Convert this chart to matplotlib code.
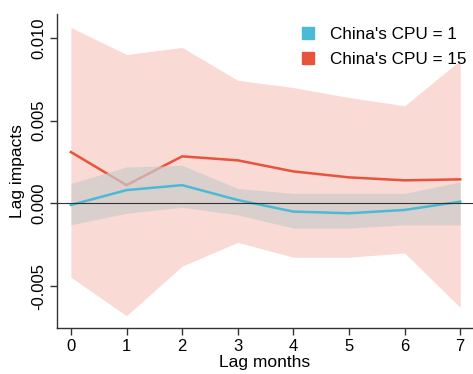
import numpy as np
import matplotlib.pyplot as plt
from matplotlib.lines import Line2D

plt.rcParams['font.family'] = ['Liberation Sans', 'DejaVu Sans']

# lag months
lags = [0, 1, 2, 3, 4, 5, 6, 7]

# China's CPU = 1
cpu1 = [-0.0001, 0.0008, 0.0011, 0.0002, -0.0005, -0.0006, -0.0004, 0.0001]
cpu1_hi = [0.0012, 0.0022, 0.0023, 0.0009, 0.0006, 0.0006, 0.0006, 0.0013]
cpu1_lo = [-0.0013, -0.0006, -0.00024, -0.0007, -0.0015, -0.0015, -0.0013, -0.0013]

# China's CPU = 15
cpu15 = [0.0031, 0.0011, 0.00284, 0.0026, 0.00193, 0.00157, 0.00139, 0.00145]
cpu15_hi = [0.01064, 0.0090, 0.00943, 0.00744, 0.0070, 0.0064, 0.0059, 0.00865]
cpu15_lo = [-0.00447, -0.0068, -0.0038, -0.00236, -0.00326, -0.00326, -0.0030, -0.0063]

yticks = [-0.005, 0.0, 0.005, 0.010]
ytick_labels = ["-0.005", "0.000", "0.005", "0.010"]

blue = '#4cb9d6'
red = '#e8533d'
pink = '#fadad5'

fig = plt.figure(figsize=(4.73, 3.74), dpi=100)
ax = fig.add_axes([57/473, 1 - 328/374, 1 - 57/473, (328 - 14)/374])

ax.fill_between(lags, cpu15_lo, cpu15_hi, color=pink, lw=0, zorder=1)
ax.plot(lags, cpu15, color=red, lw=1.8, zorder=2)
ax.fill_between(lags, cpu1_lo, cpu1_hi, color='#cccccc', alpha=0.7, lw=0, zorder=3)
ax.plot(lags, cpu1, color=blue, lw=1.8, zorder=4)
ax.axhline(0, color='#333333', lw=0.8, zorder=5)

ax.set_xlim(-0.25, 7.23)
ax.set_ylim(-0.00754, 0.01145)
ax.set_xticks(lags)
ax.set_yticks(yticks)
ax.set_yticklabels(ytick_labels, rotation=90, va='center')
ax.tick_params(axis='both', labelsize=12, length=5, width=1, color='#333333')
ax.tick_params(axis='x', pad=3)
ax.tick_params(axis='y', pad=3)
for s in ['top', 'right']:
    ax.spines[s].set_visible(False)
for s in ['left', 'bottom']:
    ax.spines[s].set_color('#333333')
    ax.spines[s].set_linewidth(1)

ax.set_xlabel("Lag months", fontsize=12.5, labelpad=1)
ax.set_ylabel("Lag impacts", fontsize=12.5, labelpad=4)

handles = [Line2D([], [], ls='', marker='s', ms=9, color=blue),
           Line2D([], [], ls='', marker='s', ms=9, color=red)]
ax.legend(handles, ["China's CPU = 1", "China's CPU = 15"], loc='upper right',
          bbox_to_anchor=(1.0, 0.98), frameon=False, fontsize=12.3,
          handlelength=1.0, handletextpad=0.8, labelspacing=0.6, borderaxespad=0)

fig.savefig('out.png', dpi=100)
